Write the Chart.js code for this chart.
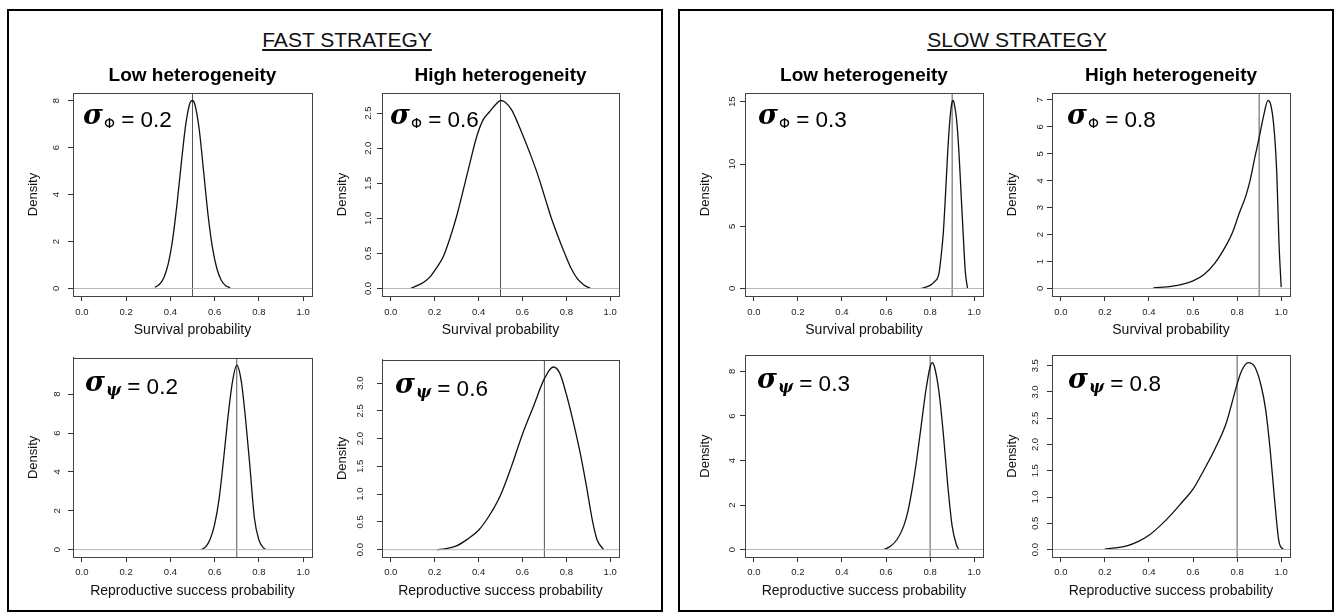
<!DOCTYPE html>
<html><head><meta charset="utf-8">
<script src="https://cdn.jsdelivr.net/npm/chart.js@4.4.1/dist/chart.umd.min.js"></script>
<style>
html,body{margin:0;padding:0;background:#fff;}
body{width:1335px;height:613px;position:relative;overflow:hidden;font-family:"Liberation Sans",Arial,sans-serif;}
.frame{position:absolute;border:2.5px solid #000;box-sizing:border-box;}
.strat{position:absolute;font-size:21px;line-height:21px;text-decoration:underline;text-underline-offset:2px;color:#111;white-space:nowrap;transform:translateX(-50%);}
canvas{position:absolute;}
</style></head><body>
<div class="frame" style="left:7px;top:9px;width:656px;height:603px"></div>
<div class="frame" style="left:678px;top:9px;width:656px;height:603px"></div>
<div class="strat" style="left:347px;top:29px">FAST STRATEGY</div>
<div class="strat" style="left:1017px;top:29px">SLOW STRATEGY</div>
<canvas id="c1"></canvas><canvas id="c2"></canvas><canvas id="c3"></canvas><canvas id="c4"></canvas>
<canvas id="c5"></canvas><canvas id="c6"></canvas><canvas id="c7"></canvas><canvas id="c8"></canvas>
<script>
// ---- data ----
const xTicks = [0, 0.2, 0.4, 0.6, 0.8, 1.0];

const fastSurvLowX = [0.33,0.35,0.37,0.39,0.41,0.43,0.45,0.47,0.49,0.50,0.51,0.53,0.55,0.57,0.59,0.61,0.63,0.65,0.67];
const fastSurvLowY = [0.05,0.17,0.45,1.04,2.07,3.59,5.39,7.02,7.93,8.00,7.85,6.80,5.00,3.15,1.75,0.85,0.35,0.12,0.03];

const fastSurvHighX = [0.09,0.12,0.15,0.18,0.21,0.24,0.27,0.30,0.33,0.36,0.39,0.42,0.45,0.48,0.50,0.52,0.55,0.58,0.61,0.64,0.67,0.70,0.73,0.76,0.79,0.82,0.85,0.88,0.91];
const fastSurvHighY = [0.00,0.04,0.09,0.17,0.30,0.46,0.72,1.03,1.40,1.78,2.15,2.40,2.52,2.63,2.68,2.66,2.55,2.35,2.12,1.88,1.62,1.32,1.02,0.76,0.52,0.30,0.14,0.05,0.00];

const fastRepLowX = [0.54,0.56,0.58,0.60,0.62,0.64,0.66,0.68,0.70,0.72,0.74,0.76,0.78,0.80,0.82,0.83];
const fastRepLowY = [0.00,0.15,0.55,1.30,2.60,4.60,6.80,8.60,9.50,8.70,6.70,4.20,1.60,0.50,0.10,0.00];

const fastRepHighX = [0.21,0.25,0.30,0.35,0.40,0.45,0.50,0.55,0.60,0.65,0.70,0.74,0.77,0.80,0.83,0.86,0.89,0.92,0.94,0.97];
const fastRepHighY = [0.00,0.02,0.07,0.19,0.35,0.62,0.98,1.50,2.08,2.58,3.08,3.29,3.18,2.80,2.33,1.80,1.18,0.50,0.18,0.00];

const slowSurvLowX = [0.76,0.78,0.80,0.82,0.84,0.85,0.86,0.87,0.88,0.89,0.90,0.905,0.91,0.92,0.93,0.94,0.95,0.96,0.97];
const slowSurvLowY = [0.00,0.10,0.25,0.55,1.20,2.60,4.50,7.60,11.0,13.6,15.0,15.1,14.8,13.6,11.2,7.80,4.40,1.30,0.00];

const slowSurvHighX = [0.42,0.45,0.50,0.55,0.60,0.65,0.70,0.75,0.78,0.81,0.84,0.86,0.88,0.90,0.92,0.94,0.95,0.96,0.97,0.98,0.99,1.00];
const slowSurvHighY = [0.02,0.04,0.08,0.15,0.28,0.52,0.95,1.60,2.10,2.80,3.45,4.05,4.85,5.60,6.40,6.98,6.90,6.50,5.70,4.30,1.70,0.05];

const slowRepLowX = [0.59,0.62,0.65,0.68,0.70,0.72,0.74,0.76,0.78,0.80,0.81,0.82,0.84,0.86,0.88,0.90,0.92,0.93];
const slowRepLowY = [0.00,0.15,0.45,1.05,1.75,2.80,4.10,5.60,7.10,8.20,8.40,8.20,7.10,5.20,2.90,1.05,0.20,0.00];

const slowRepHighX = [0.20,0.25,0.30,0.35,0.40,0.45,0.50,0.55,0.60,0.65,0.70,0.75,0.80,0.82,0.85,0.88,0.91,0.93,0.95,0.97,0.99,1.01];
const slowRepHighY = [0.01,0.03,0.07,0.15,0.27,0.45,0.66,0.90,1.15,1.52,1.92,2.40,3.15,3.40,3.56,3.48,3.10,2.65,1.90,0.95,0.15,0.00];

const yTicksFastSurvLow  = [0,2,4,6,8];
const yTicksFastSurvHigh = [0,0.5,1,1.5,2,2.5];
const yTicksFastRepLow   = [0,2,4,6,8];
const yTicksFastRepHigh  = [0,0.5,1,1.5,2,2.5,3];
const yTicksSlowSurvLow  = [0,5,10,15];
const yTicksSlowSurvHigh = [0,1,2,3,4,5,6,7];
const yTicksSlowRepLow   = [0,2,4,6,8];
const yTicksSlowRepHigh  = [0,0.5,1,1.5,2,2.5,3,3.5];

const refValues   = [0.5, 0.5, 0.7, 0.7, 0.9, 0.9, 0.8, 0.8];
const sigmaValues = ['0.2','0.6','0.2','0.6','0.3','0.8','0.3','0.8'];
const sigmaSubs   = ['Φ','Φ','ψ','ψ','Φ','Φ','ψ','ψ'];
const panelTitles = ['Low heterogeneity','High heterogeneity','','','Low heterogeneity','High heterogeneity','',''];
const xTitles     = ['Survival probability','Survival probability','Reproductive success probability','Reproductive success probability',
                     'Survival probability','Survival probability','Reproductive success probability','Reproductive success probability'];

// ---- layout (positions / styles) ----
const layout = [
  {id:'c1', left:21,  top:64,  w:301, h:278, row:0, xs:fastSurvLowX,  ys:fastSurvLowY,  yt:yTicksFastSurvLow,  dec:0, annX:10, tickPad:9},
  {id:'c2', left:330, top:64,  w:299, h:278, row:0, xs:fastSurvHighX, ys:fastSurvHighY, yt:yTicksFastSurvHigh, dec:1, annX:8,  tickPad:2.5},
  {id:'c3', left:21,  top:344, w:301, h:259, row:1, xs:fastRepLowX,   ys:fastRepLowY,   yt:yTicksFastRepLow,   dec:0, annX:12, tickPad:8},
  {id:'c4', left:330, top:344, w:299, h:259, row:1, xs:fastRepHighX,  ys:fastRepHighY,  yt:yTicksFastRepHigh,  dec:1, annX:13, tickPad:10},
  {id:'c5', left:693, top:64,  w:300, h:278, row:0, xs:slowSurvLowX,  ys:slowSurvLowY,  yt:yTicksSlowSurvLow,  dec:0, annX:13, tickPad:2.7},
  {id:'c6', left:1000,top:64,  w:300, h:278, row:0, xs:slowSurvHighX, ys:slowSurvHighY, yt:yTicksSlowSurvHigh, dec:0, annX:15, tickPad:4.4},
  {id:'c7', left:693, top:344, w:300, h:259, row:1, xs:slowRepLowX,   ys:slowRepLowY,   yt:yTicksSlowRepLow,   dec:0, annX:12, tickPad:5.4},
  {id:'c8', left:1000,top:344, w:300, h:259, row:1, xs:slowRepHighX,  ys:slowRepHighY,  yt:yTicksSlowRepHigh,  dec:1, annX:16, tickPad:5.4}
];

const SANS = '"Liberation Sans", Arial, sans-serif';

const panelPlugin = {
  id: 'panelDeco',
  afterDraw(chart, args, opts) {
    const a = chart.chartArea, ctx = chart.ctx;
    ctx.save();
    ctx.strokeStyle = '#444';
    ctx.lineWidth = 1;
    ctx.strokeRect(Math.round(a.left) + 0.5, Math.round(a.top) + 0.5, Math.round(a.right - a.left), Math.round(a.bottom - a.top));
    // sigma annotation
    const B = a.top + opts.annY;
    let x = a.left + opts.annX;
    ctx.fillStyle = '#000';
    ctx.textBaseline = 'alphabetic';
    ctx.textAlign = 'left';
    ctx.font = 'italic bold 27px "DejaVu Serif", serif';
    ctx.fillText('σ', x, B - 3);
    x += ctx.measureText('σ').width + 1;
    ctx.font = opts.sub === 'ψ' ? 'italic bold 16px "DejaVu Serif", serif' : '14px "DejaVu Sans", sans-serif';
    ctx.fillText(opts.sub, x, B + 1);
    x += ctx.measureText(opts.sub).width;
    ctx.font = '22.5px ' + SANS;
    ctx.fillText(' = ' + opts.val, x, B);
    ctx.restore();
  }
};

layout.forEach((p, i) => {
  const cv = document.getElementById(p.id);
  cv.width = p.w; cv.height = p.h;
  cv.style.left = p.left + 'px'; cv.style.top = p.top + 'px';
  cv.style.width = p.w + 'px'; cv.style.height = p.h + 'px';
  const yPeak = Math.max(...p.ys);
  const yMin = -0.04 * yPeak, yMax = 1.04 * yPeak;
  const xMin = -0.04, xMax = 1.04;
  const ref = refValues[i];
  new Chart(cv, {
    type: 'scatter',
    data: {
      datasets: [
        {data: [{x: xMin, y: 0}, {x: xMax, y: 0}], showLine: true, borderColor: '#b4b4b4', borderWidth: 1, pointRadius: 0},
        {data: p.xs.map((x, k) => ({x: x, y: p.ys[k]})), showLine: true, borderColor: '#111', borderWidth: 1.3,
         pointRadius: 0, cubicInterpolationMode: 'monotone'},
        {data: [{x: ref, y: yMin}, {x: ref, y: yMax}], showLine: true, borderColor: '#555', borderWidth: 1, pointRadius: 0}
      ]
    },
    options: {
      responsive: false, animation: false, devicePixelRatio: 1,
      layout: {padding: {top: p.row === 0 ? 0 : 10, right: 10, bottom: 0, left: 0}},
      plugins: {
        legend: {display: false}, tooltip: {enabled: false},
        title: {display: p.row === 0, text: panelTitles[i], fullSize: false, color: '#000',
                font: {family: SANS, size: 19, weight: 'bold'}, padding: {top: 0, bottom: 6.2}},
        panelDeco: {annX: p.annX, annY: p.row === 0 ? 34 : 36, sub: sigmaSubs[i], val: sigmaValues[i]}
      },
      scales: {
        x: {
          type: 'linear', min: xMin, max: xMax,
          afterBuildTicks: s => { s.ticks = xTicks.map(v => ({value: v})); },
          afterFit: s => { s.height = 46; },
          ticks: {callback: v => Number(v).toFixed(1), font: {family: SANS, size: 9.5}, color: '#222',
                  padding: p.row === 0 ? 6 : 5, maxRotation: 0, autoSkip: false},
          grid: {drawOnChartArea: false, drawTicks: true, tickLength: 5, tickColor: '#333'},
          border: {display: true, color: '#444'},
          title: {display: true, text: xTitles[i], color: '#111', font: {family: SANS, size: 14}, padding: {top: 0, bottom: 3.6}}
        },
        y: {
          type: 'linear', min: yMin, max: yMax,
          afterBuildTicks: s => { s.ticks = p.yt.map(v => ({value: v})); },
          afterFit: s => { s.width = 52; },
          ticks: {callback: v => Number(v).toFixed(p.dec), font: {family: SANS, size: 9.5}, color: '#222',
                  minRotation: 90, maxRotation: 90, crossAlign: 'center', padding: p.tickPad, autoSkip: false},
          grid: {drawOnChartArea: false, drawTicks: true, tickLength: 5, tickColor: '#333'},
          border: {display: true, color: '#444'},
          title: {display: true, text: 'Density', color: '#111', font: {family: SANS, size: 13}, padding: {top: 4.2, bottom: 0}}
        }
      }
    },
    plugins: [panelPlugin]
  });
});
</script>
</body></html>
